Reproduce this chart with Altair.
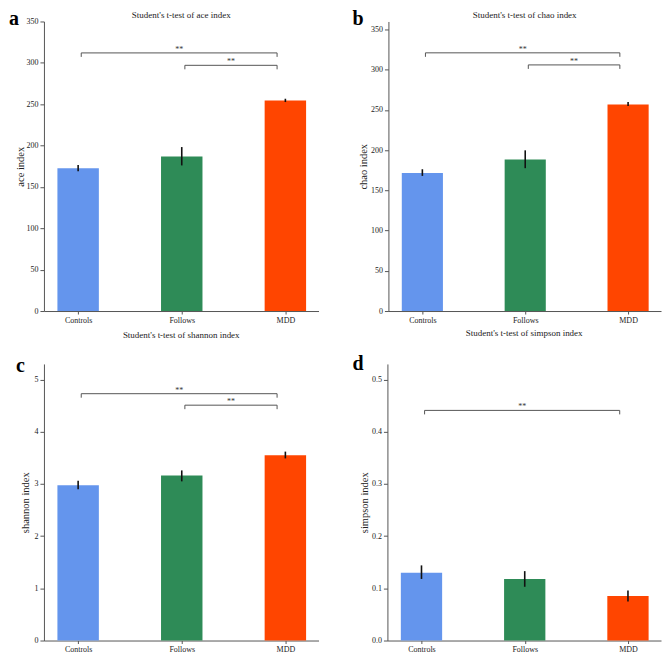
import altair as alt
import pandas as pd

groups = ["Controls", "Follows", "MDD"]
group_colors = ["#6495ED", "#2E8B57", "#FF4500"]

ace_mean = [172.6, 186.7, 254.6]
ace_lo = [169.0, 176.0, 252.6]
ace_hi = [176.6, 198.2, 256.6]
ace_sig_from = ["Controls", "Follows"]
ace_sig_to = ["MDD", "MDD"]
ace_sig_level = [312, 297]

chao_mean = [171.7, 188.3, 256.8]
chao_lo = [168.0, 177.6, 254.9]
chao_hi = [176.3, 199.8, 259.8]
chao_sig_from = ["Controls", "Follows"]
chao_sig_to = ["MDD", "MDD"]
chao_sig_level = [321, 306]

shannon_mean = [2.975, 3.16, 3.55]
shannon_lo = [2.90, 3.05, 3.49]
shannon_hi = [3.06, 3.26, 3.62]
shannon_sig_from = ["Controls", "Follows"]
shannon_sig_to = ["MDD", "MDD"]
shannon_sig_level = [4.73, 4.51]

simpson_mean = [0.130, 0.118, 0.0855]
simpson_lo = [0.118, 0.103, 0.075]
simpson_hi = [0.144, 0.133, 0.096]
simpson_sig_from = ["Controls"]
simpson_sig_to = ["MDD"]
simpson_sig_level = [0.441]

sig_text = "**"
FONT = "Liberation Serif"


def panel(letter, metric, mean, lo, hi, s_from, s_to, s_lvl, ymax, ticks, fmt,
          w, h, title_offset, extent, title_pad, letter_x, letter_y):
    pos = list(range(len(groups)))
    df = pd.DataFrame({"group": groups, "pos": pos, "mean": mean, "lo": lo, "hi": hi})
    df["left"] = df["pos"] - 0.2
    df["right"] = df["pos"] + 0.2

    xs = alt.Scale(domain=[-0.33, 2.32], nice=False, zero=False)
    ys = alt.Scale(domain=[0, ymax], nice=False, zero=True)
    label_expr = "[" + ",".join("'%s'" % g for g in groups) + "][datum.value]"
    xaxis = alt.Axis(values=pos, labelExpr=label_expr, title=None, tickSize=3,
                     labelPadding=2, labelAngle=0, labelFontSize=8, grid=False,
                     labelFont=FONT, labelColor="#222222",
                     domainColor="#555555", tickColor="#555555")
    ytitle = metric + " index"
    yaxis = alt.Axis(values=ticks, format=fmt, title=ytitle, tickSize=4,
                     labelPadding=2, labelFontSize=8, titleFontSize=10.5,
                     minExtent=extent, maxExtent=extent, titlePadding=title_pad,
                     grid=False, labelFont=FONT, titleFont=FONT,
                     titleFontWeight="normal", labelColor="#222222",
                     titleColor="#222222", domainColor="#555555", tickColor="#555555")

    def X(f):
        return alt.X(f, scale=xs, axis=xaxis)

    def Y(f):
        return alt.Y(f, scale=ys, axis=yaxis)

    bars = alt.Chart(df).mark_rect().encode(
        x=X("left:Q"), x2="right:Q",
        y=Y("mean:Q"), y2=alt.datum(0),
        color=alt.Color("group:N", scale=alt.Scale(domain=groups, range=group_colors), legend=None),
    )
    errs = alt.Chart(df).mark_rule(color="#111111", strokeWidth=1.6).encode(
        x=X("pos:Q"), y=Y("lo:Q"), y2="hi:Q"
    )

    drop = 4.0 * ymax / h
    sdf = pd.DataFrame({
        "x1": [groups.index(a) + 0.03 for a in s_from],
        "x2": [groups.index(b) - 0.08 for b in s_to],
        "y": s_lvl,
        "label": [sig_text] * len(s_lvl),
    })
    sdf["xm"] = (sdf["x1"] + sdf["x2"]) / 2
    sdf["yd"] = sdf["y"] - drop
    ends = pd.concat([
        pd.DataFrame({"x": sdf["x1"], "y": sdf["y"], "yd": sdf["yd"]}),
        pd.DataFrame({"x": sdf["x2"], "y": sdf["y"], "yd": sdf["yd"]}),
    ])
    hline = alt.Chart(sdf).mark_rule(color="#555555", strokeWidth=1).encode(
        x=X("x1:Q"), x2="x2:Q", y=Y("y:Q")
    )
    vline = alt.Chart(ends).mark_rule(color="#555555", strokeWidth=1).encode(
        x=X("x:Q"), y=Y("y:Q"), y2="yd:Q"
    )
    stars = alt.Chart(sdf).mark_text(font=FONT, fontSize=8, color="#333333",
                                     baseline="alphabetic", dy=-1).encode(
        x=X("xm:Q"), y=Y("y:Q"), text="label:N"
    )
    let = alt.Chart(pd.DataFrame({"letter": [letter]})).mark_text(
        font=FONT, fontSize=20, fontWeight="bold", color="#000000",
        align="left", baseline="alphabetic"
    ).encode(x=alt.value(letter_x), y=alt.value(letter_y), text="letter:N")

    return alt.layer(bars, errs, hline, vline, stars, let).properties(
        width=w, height=h,
        title=alt.TitleParams("Student's t-test of " + metric + " index", fontSize=9,
                              font=FONT, fontWeight="normal", color="#222222",
                              offset=title_offset, anchor="middle"),
    )


pa = panel("a", "ace", ace_mean, ace_lo, ace_hi, ace_sig_from, ace_sig_to, ace_sig_level,
           350, [0, 50, 100, 150, 200, 250, 300, 350], "d",
           275, 290, -11, 18, 0, -35, 4)
pb = panel("b", "chao", chao_mean, chao_lo, chao_hi, chao_sig_from, chao_sig_to, chao_sig_level,
           360, [0, 50, 100, 150, 200, 250, 300, 350], "d",
           273, 290, -11, 18, 1.5, -36, 4)
pc = panel("c", "shannon", shannon_mean, shannon_lo, shannon_hi, shannon_sig_from, shannon_sig_to,
           shannon_sig_level, 5.3, [0, 1, 2, 3, 4, 5], "d",
           275, 277, 16, 10, 3.4, -28, 8)
pd_ = panel("d", "simpson", simpson_mean, simpson_lo, simpson_hi, simpson_sig_from, simpson_sig_to,
            simpson_sig_level, 0.53, [0, 0.1, 0.2, 0.3, 0.4, 0.5], ".1f",
            274, 277, 16, 16, 2.4, -35, 6)

chart = alt.vconcat(
    alt.hconcat(pa, pb, spacing=32),
    alt.hconcat(pc, pd_, spacing=32),
    spacing=3,
).properties(padding=0, background="white").configure_view(stroke="transparent")

chart.save("out.html", embed_options={"renderer": "svg", "actions": False})
